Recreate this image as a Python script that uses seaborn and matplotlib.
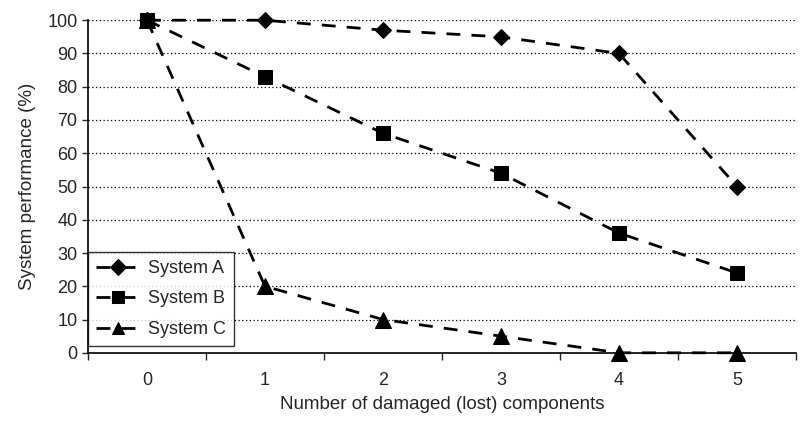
import pandas as pd
import seaborn as sns
import matplotlib.pyplot as plt

# data
components = [0, 1, 2, 3, 4, 5]
system_a = [100, 100, 97, 95, 90, 50]
system_b = [100, 83, 66, 54, 36, 24]
system_c = [100, 20, 10, 5, 0, 0]

df = pd.DataFrame({
    'components': components * 3,
    'performance': system_a + system_b + system_c,
    'system': ['System A'] * 6 + ['System B'] * 6 + ['System C'] * 6,
})

sns.set_style('white')
plt.rcParams['font.family'] = ['Liberation Sans', 'DejaVu Sans']

fig, ax = plt.subplots(figsize=(8, 4.21), dpi=100)
fig.subplots_adjust(left=0.11, right=0.995, top=0.952, bottom=0.162)

markers = {'System A': 'D', 'System B': 's', 'System C': '^'}
sizes = {'System A': 8, 'System B': 10, 'System C': 11}
for name, grp in df.groupby('system'):
    sns.lineplot(data=grp, x='components', y='performance', ax=ax,
                 color='black', linestyle=(0, (5, 4)), linewidth=2.0,
                 marker=markers[name], markersize=sizes[name],
                 markeredgecolor='black', markerfacecolor='black',
                 label=name, clip_on=False, zorder=5)

ax.set_xlim(-0.5, 5.5)
ax.set_ylim(0, 100)
ax.set_yticks(range(0, 101, 10))
ax.set_xticks(components)
ax.set_xticks([i + 0.5 for i in range(-1, 6)], minor=True)
ax.tick_params(axis='x', which='major', length=0, pad=14, labelsize=13)
ax.tick_params(axis='x', which='minor', length=5, width=1, direction='out', bottom=True)
ax.tick_params(axis='y', length=4, width=1, direction='out', left=True, labelsize=13)
ax.yaxis.grid(True, linestyle=(0, (1, 2)), color='black', linewidth=0.9)
ax.xaxis.grid(False)
ax.set_axisbelow(True)

for s in ['top', 'right']:
    ax.spines[s].set_visible(False)
for s in ['left', 'bottom']:
    ax.spines[s].set_color('black')
    ax.spines[s].set_linewidth(1.2)

ax.set_xlabel('Number of damaged (lost) components', fontsize=13.5, labelpad=5)
ax.set_ylabel('System performance (%)', fontsize=13.5, labelpad=8)

leg = ax.legend(loc='lower left', bbox_to_anchor=(0.0, 0.02), frameon=True,
                fancybox=False, edgecolor='black', fontsize=13,
                handlelength=2.4, handletextpad=0.5, borderpad=0.45,
                labelspacing=0.75, borderaxespad=0.0)
leg.get_frame().set_linewidth(1.0)
for h in leg.legend_handles:
    h.set_markersize(8)

fig.savefig('out.png', dpi=100, facecolor='white')
